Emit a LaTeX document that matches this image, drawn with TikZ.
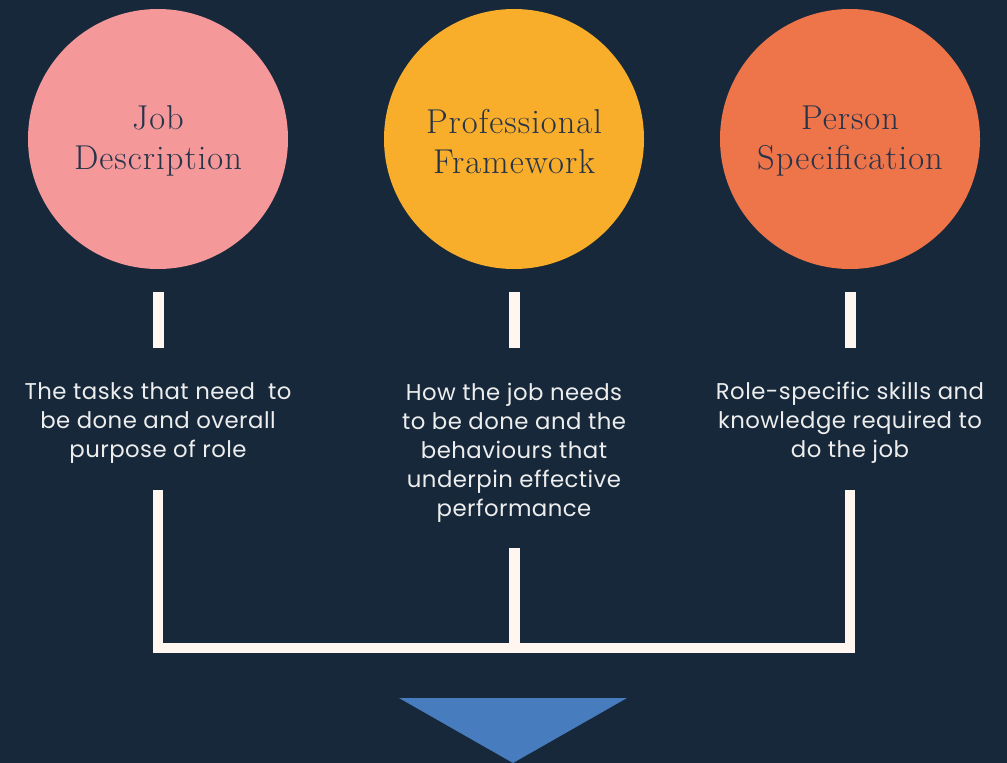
\documentclass[tikz,border=0pt]{standalone}
\usepackage{fontspec}
\newfontfamily\bodyfont[LetterSpace=2]{Poppins}
\newfontfamily\titlefont[LetterSpace=3]{Latin Modern Roman}
\definecolor{bg}{HTML}{16283A}
\definecolor{pinkc}{HTML}{F4989A}
\definecolor{yellowc}{HTML}{F8AE2A}
\definecolor{orangec}{HTML}{EE744A}
\definecolor{bar}{HTML}{FFF6F0}
\definecolor{titletext}{HTML}{26344A}
\definecolor{bodytext}{HTML}{EDEDED}
\definecolor{arrowc}{HTML}{477DBE}
\tikzset{
  bubble/.style={circle, minimum size=260pt, inner sep=0pt, text=titletext,
    font=\titlefont\fontsize{34.5}{40}\selectfont, align=center},
  desc/.style={text=bodytext, font=\bodyfont\fontsize{22.8}{29}\selectfont, align=center, inner sep=0pt},
  barline/.style={draw=bar, line width=11pt},
  bracketline/.style={draw=bar, line width=10.5pt, line join=miter},
}
\begin{document}
\begin{tikzpicture}[x=1pt,y=-1pt]
\fill[bg] (0,0) rectangle (1007,763);
\useasboundingbox (0,0) rectangle (1007,763);
% circles
\node[bubble, fill=pinkc] (c1) at (158,139) {};
\node[bubble, fill=yellowc] (c2) at (514,139) {};
\node[bubble, fill=orangec] (c3) at (850,139) {};
\node[bubble] (c1t) at (158,141) {Job\\Description};
\node[bubble] (c2t) at (514,142) {Professional\\Framework};
\node[bubble] (c3t) at (850,141) {Person\\Specification};
% short bars
\coordinate (b1t) at (158,292); \coordinate (b1b) at (158,348);
\coordinate (b2t) at (514,292); \coordinate (b2b) at (514,348);
\coordinate (b3t) at (850,292); \coordinate (b3b) at (850,348);
\draw[barline] (b1t) -- (b1b);
\draw[barline] (b2t) -- (b2b);
\draw[barline] (b3t) -- (b3b);
% descriptions
\node[desc] (t1) at (158,423) {The tasks that need~~to\\be done and overall\\purpose of role};
\node[desc] (t2) at (514,452.5) {How the job needs\\to be done and the\\behaviours that\\underpin effective\\performance};
\node[desc] (t3) at (850,423) {Role-specific skills and\\knowledge required to\\do the job};
% bracket
\coordinate (l1) at (158,490);
\coordinate (l2) at (514,548);
\coordinate (l3) at (850,490);
\coordinate (m2) at (514,648);
\draw[bracketline] (l1) -- (l1 |- m2) -- (l3 |- m2) -- (l3);
\draw[barline] (l2) -- (m2);
% arrow triangle
\fill[arrowc] (399,698) -- (627,698) -- (513,763) -- cycle;
\end{tikzpicture}
\end{document}
